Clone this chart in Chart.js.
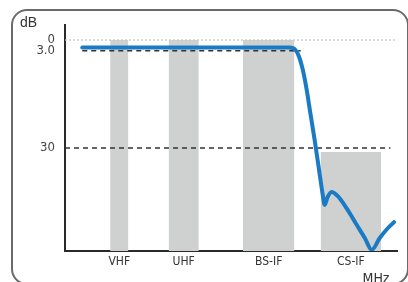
<!DOCTYPE html>
<html>
<head>
<meta charset="utf-8">
<script src="https://cdn.jsdelivr.net/npm/chart.js@4/dist/chart.umd.min.js"></script>
<style>
  html, body { margin: 0; padding: 0; background: #fff; overflow: hidden; }
  #wrap { position: relative; width: 408px; height: 282px; overflow: hidden; }
  #frame { position: absolute; left: 11px; top: 9px; width: 398px; height: 276px; box-sizing: border-box;
           border: 2px solid #6a6a6a; border-radius: 16px; }
  canvas { position: absolute; left: 0; top: 0; }
</style>
</head>
<body>
<div id="wrap">
  <div id="frame"></div>
  <canvas id="c" width="408" height="282"></canvas>
</div>
<script>
// Bands (x in relative frequency units 0..100, y in dB attenuation)
const bandLabels = ['VHF', 'UHF', 'BS-IF', 'CS-IF'];
const bandStart  = [13.6, 31.2, 53.6, 77.0];
const bandEnd    = [19.1, 40.3, 69.1, 95.2];
const bandTop    = [0.0, 0.0, 0.0, 31.1];

// Frequency response curve
const curveX = [5.2, 67.4, 68.8, 70.3, 71.5, 72.7, 73.9, 75.2, 76.4, 77.6, 78.2, 79.1, 80.3, 82.1, 84.8, 87.9, 90.3, 92.4, 94.8, 97.0, 99.1];
const curveY = [2.1, 2.1, 2.3, 4.2, 7.8, 13.3, 20.3, 27.8, 35.3, 42.8, 45.8, 43.6, 42.2, 43.3, 46.7, 51.4, 55.0, 58.3, 55.0, 52.5, 50.6];

// Y tick labels and reference lines
const yTickValues = [0, 3, 30];
const yTickLabels = ['0', '3.0', '30'];
const refValues = [0, 3, 30];
const refStart  = [0, 5.2, 0];
const refEnd    = [100, 71.0, 98];

const Y_MIN = -4.17, Y_MAX = 58.61;

const datasets = [];
// curve
datasets.push({
  type: 'line',
  data: curveX.map((x, i) => ({ x, y: curveY[i] })),
  borderColor: '#1a7bc4',
  borderWidth: 4,
  pointRadius: 0,
  cubicInterpolationMode: 'monotone',
  fill: false,
  borderCapStyle: 'round',
  borderJoinStyle: 'round',
  order: 0
});
// reference lines
const refStyles = [
  { color: '#c4c4c4', dash: [2, 2], width: 1.2 },
  { color: '#333333', dash: [5, 4], width: 1.6 },
  { color: '#333333', dash: [5, 4], width: 1.4 }
];
refValues.forEach((v, i) => {
  datasets.push({
    type: 'line',
    data: [{ x: refStart[i], y: v }, { x: refEnd[i], y: v }],
    borderColor: refStyles[i].color,
    borderDash: refStyles[i].dash,
    borderWidth: refStyles[i].width,
    pointRadius: 0,
    fill: false,
    order: 1
  });
});
// bands
bandLabels.forEach((b, i) => {
  datasets.push({
    type: 'line',
    data: [{ x: bandStart[i], y: bandTop[i] }, { x: bandEnd[i], y: bandTop[i] }],
    borderWidth: 0,
    borderColor: 'rgba(0,0,0,0)',
    backgroundColor: '#cfd1d1',
    pointRadius: 0,
    fill: { value: Y_MAX },
    order: 2
  });
});

const textPlugin = {
  id: 'textPlugin',
  afterDraw(chart) {
    const ctx = chart.ctx;
    ctx.save();
    ctx.fillStyle = '#333';
    ctx.font = '14px "Liberation Sans", "DejaVu Sans", sans-serif';
    ctx.textAlign = 'left';
    ctx.textBaseline = 'middle';
    ctx.fillText('dB', 20, 23);
    ctx.font = '14px "DejaVu Sans Condensed", "Liberation Sans", sans-serif';
    ctx.textAlign = 'center';
    ctx.textBaseline = 'top';
    ctx.fillText('MHz', 376, 272);
    ctx.restore();
  }
};

new Chart(document.getElementById('c'), {
  type: 'line',
  data: { datasets },
  options: {
    responsive: false,
    animation: false,
    layout: { padding: { left: 0, top: 25, right: 11, bottom: 0 } },
    plugins: { legend: { display: false }, tooltip: { enabled: false } },
    scales: {
      x: {
        type: 'linear',
        min: 0, max: 100,
        grid: { display: false, drawTicks: false },
        border: { display: true, color: '#2a2a2a', width: 2 },
        afterFit(scale) { scale.height = 31; },
        afterBuildTicks(scale) {
          scale.ticks = bandStart.map((s, i) => ({ value: (s + bandEnd[i]) / 2 }));
        },
        ticks: {
          autoSkip: false, maxRotation: 0, padding: 4,
          color: '#333',
          font: { family: '"DejaVu Sans Condensed", "Liberation Sans", sans-serif', size: 12 },
          callback(value, index) { return bandLabels[index]; }
        }
      },
      y: {
        type: 'linear',
        reverse: true,
        min: Y_MIN, max: Y_MAX,
        grid: { display: false, drawTicks: false },
        border: { display: true, color: '#2a2a2a', width: 2 },
        afterFit(scale) { scale.width = 65; },
        afterBuildTicks(scale) {
          scale.ticks = yTickValues.map(v => ({ value: v }));
        },
        ticks: {
          autoSkip: false, padding: 10,
          color: '#444',
          font: { family: '"DejaVu Sans Condensed", "Liberation Sans", sans-serif', size: 13 },
          callback(value, index) { return yTickLabels[index]; }
        }
      }
    }
  },
  plugins: [textPlugin]
});
</script>
</body>
</html>
